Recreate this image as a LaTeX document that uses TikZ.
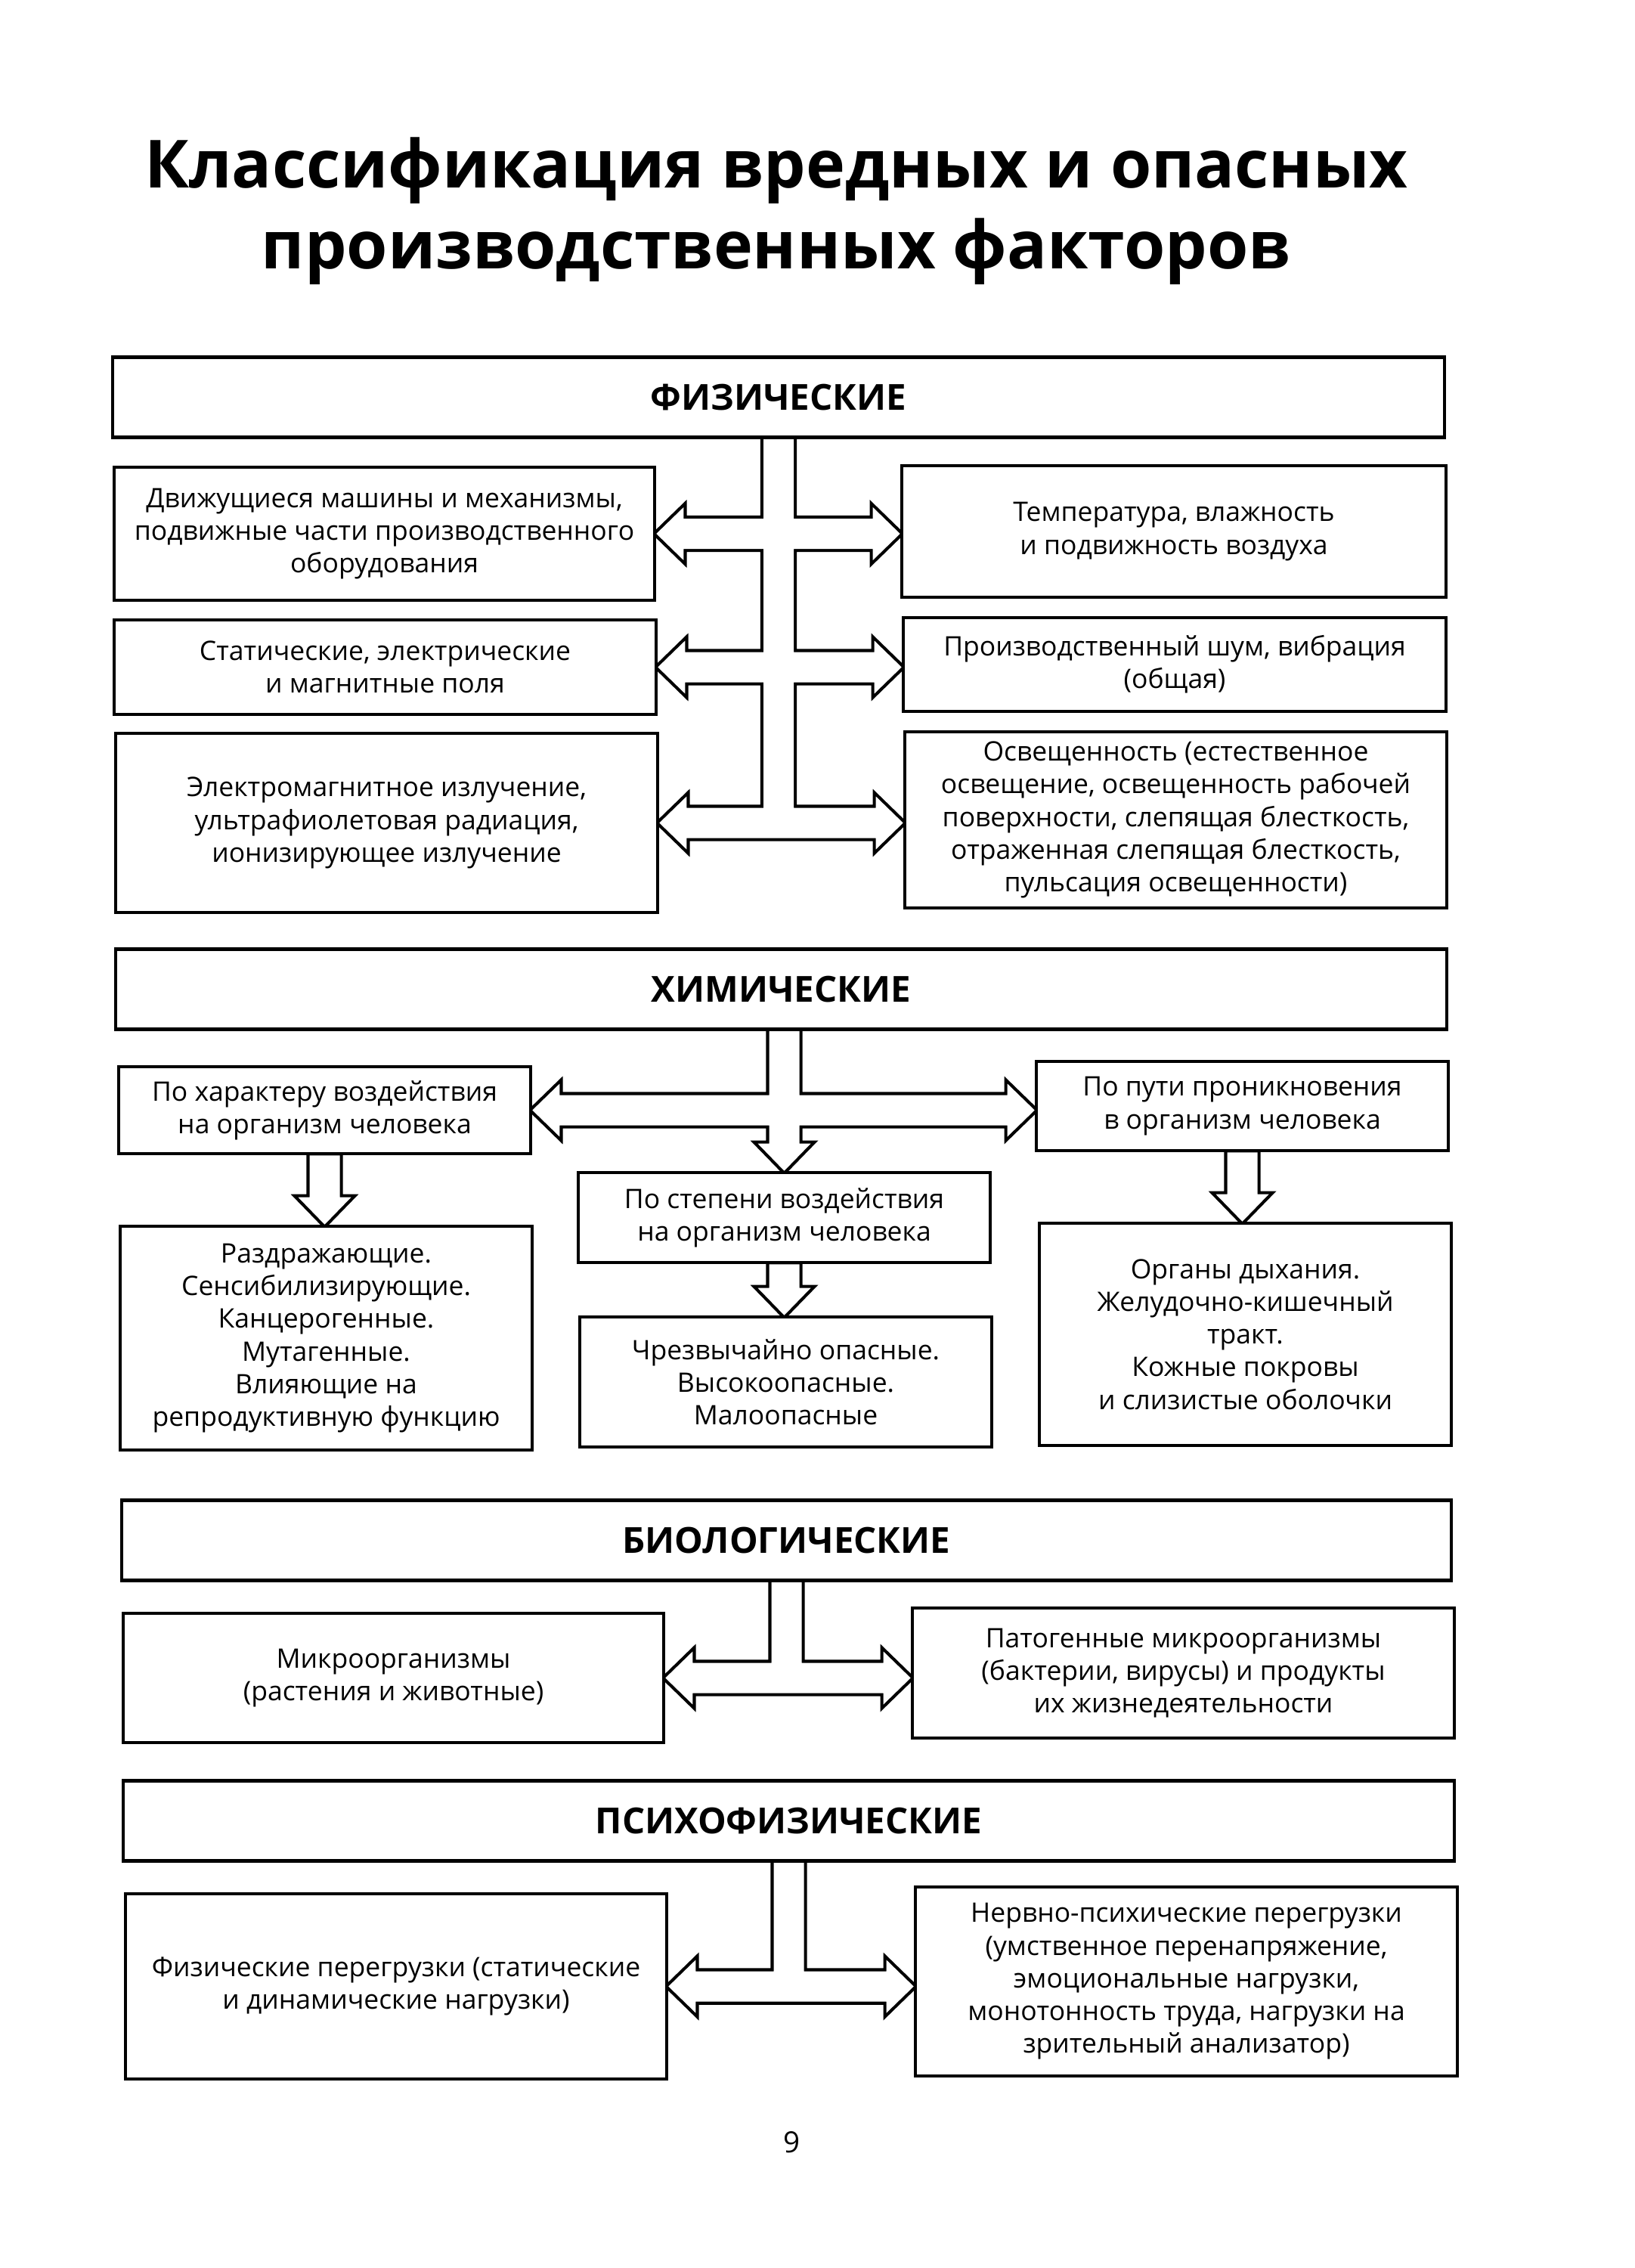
\documentclass[tikz,border=0pt]{standalone}
\usepackage{fontspec}
\setmainfont{Open Sans}
\usetikzlibrary{calc,backgrounds}

\begin{document}
\begin{tikzpicture}[
    box/.style={rectangle, draw=black, line width=1.3pt, fill=white, align=center, inner sep=2pt, font=\fontsize{10.1}{12.3}\selectfont},
    hdrbox/.style={box, minimum height=1.06cm, font=\fontsize{13.5}{15}\selectfont\bfseries},
    blk/.style={draw=black, line width=2.4pt, postaction={fill=white}},
    trunk/.style={to path={-- ($(\tikztostart)+(-0.2,0)$) -- ($(\tikztotarget)+(-0.2,0)$)
        -- ($(\tikztotarget)+(0.2,0)$) -- ($(\tikztostart)+(0.2,0)$) -- cycle}},
    downway/.style={to path={-- ($(\tikztostart)+(-0.2,0)$) -- ($(\tikztotarget)+(-0.2,0.36)$)
        -- ($(\tikztotarget)+(-0.35,0.36)$) -- (\tikztotarget) -- ($(\tikztotarget)+(0.35,0.36)$)
        -- ($(\tikztotarget)+(0.2,0.36)$) -- ($(\tikztostart)+(0.2,0)$) -- cycle}},
    twoway/.style={to path={-- ($(\tikztostart)+(0.36,-0.35)$) -- ($(\tikztostart)+(0.36,-0.2)$)
        -- ($(\tikztotarget)+(-0.36,-0.2)$) -- ($(\tikztotarget)+(-0.36,-0.35)$) -- (\tikztotarget)
        -- ($(\tikztotarget)+(-0.36,0.35)$) -- ($(\tikztotarget)+(-0.36,0.2)$)
        -- ($(\tikztostart)+(0.36,0.2)$) -- ($(\tikztostart)+(0.36,0.35)$) -- cycle}}]

    \useasboundingbox (0,0) rectangle (21.63,-30);

    % Title
    \node[font=\fontsize{25}{30}\selectfont\bfseries] (title1) at (10.27,-2.26) {Классификация вредных и опасных};
    \node[font=\fontsize{25}{30}\selectfont\bfseries] (title2) at (10.27,-3.33) {производственных факторов};

    % Physical factors
    \node[hdrbox, minimum width=17.62cm] (fhdr) at (10.30,-5.255) {ФИЗИЧЕСКИЕ};
    \node[box, minimum width=7.15cm, minimum height=1.76cm] (fl1) at (5.085,-7.06) {Движущиеся машины и механизмы,\\подвижные части производственного\\оборудования};
    \node[box, minimum width=7.20cm, minimum height=1.74cm] (fr1) at (15.53,-7.03) {Температура, влажность\\и подвижность воздуха};
    \node[box, minimum width=7.17cm, minimum height=1.25cm] (fl2) at (5.095,-8.825) {Статические, электрические\\и магнитные поля};
    \node[box, minimum width=7.18cm, minimum height=1.24cm] (fr2) at (15.54,-8.79) {Производственный шум, вибрация\\(общая)};
    \node[box, minimum width=7.17cm, minimum height=2.37cm] (fl3) at (5.115,-10.885) {Электромагнитное излучение,\\ультрафиолетовая радиация,\\ионизирующее излучение};
    \node[box, minimum width=7.17cm, minimum height=2.33cm] (fr3) at (15.555,-10.845) {Освещенность (естественное\\освещение, освещенность рабочей\\поверхности, слепящая блесткость,\\отраженная слепящая блесткость,\\пульсация освещенности)};

    % Chemical factors
    \node[hdrbox, minimum width=17.61cm] (chdr) at (10.335,-13.085) {ХИМИЧЕСКИЕ};
    \node[box, minimum width=5.45cm, minimum height=1.15cm] (ca) at (4.295,-14.685) {По характеру воздействия\\на организм человека};
    \node[box, minimum width=5.45cm, minimum height=1.18cm] (cc) at (16.435,-14.63) {По пути проникновения\\в организм человека};
    \node[box, minimum width=5.45cm, minimum height=1.19cm] (cb) at (10.375,-16.105) {По степени воздействия\\на организм человека};
    \node[box, minimum width=5.45cm, minimum height=2.96cm] (ca2) at (4.315,-17.70) {Раздражающие.\\Сенсибилизирующие.\\Канцерогенные.\\Мутагенные.\\Влияющие на\\репродуктивную функцию};
    \node[box, minimum width=5.45cm, minimum height=1.72cm] (cb2) at (10.395,-18.28) {Чрезвычайно опасные.\\Высокоопасные.\\Малоопасные};
    \node[box, minimum width=5.45cm, minimum height=2.94cm] (cc2) at (16.475,-17.65) {Органы дыхания.\\Желудочно-кишечный\\тракт.\\Кожные покровы\\и слизистые оболочки};

    % Biological factors
    \node[hdrbox, minimum width=17.59cm] (bhdr) at (10.405,-20.375) {БИОЛОГИЧЕСКИЕ};
    \node[box, minimum width=7.15cm, minimum height=1.71cm] (bl) at (5.205,-22.195) {Микроорганизмы\\(растения и животные)};
    \node[box, minimum width=7.17cm, minimum height=1.72cm] (br) at (15.655,-22.13) {Патогенные микроорганизмы\\(бактерии, вирусы) и продукты\\их жизнедеятельности};

    % Psychophysical factors
    \node[hdrbox, minimum width=17.61cm] (phdr) at (10.435,-24.085) {ПСИХОФИЗИЧЕСКИЕ};
    \node[box, minimum width=7.16cm, minimum height=2.45cm] (pl) at (5.24,-26.275) {Физические перегрузки (статические\\и динамические нагрузки)};
    \node[box, minimum width=7.17cm, minimum height=2.50cm] (pr) at (15.695,-26.21) {Нервно-психические перегрузки\\(умственное перенапряжение,\\эмоциональные нагрузки,\\монотонность труда, нагрузки на\\зрительный анализатор)};

    % Page number
    \node[font=\fontsize{11}{13}\selectfont] (pgno) at (10.48,-28.34) {9};

    % Free ends of the block arrows
    \coordinate (fbot) at (fhdr.south |- fl3.east);
    \coordinate (ft1) at (fl1.east -| fr1.west);
    \coordinate (ft2) at (fl2.east -| fr2.west);
    \coordinate (ft3) at (fl3.east -| fr3.west);
    \coordinate (ctop) at (cb.north |- chdr.south);
    \coordinate (ct) at (ca.east -| cc.west);
    \coordinate (bbot) at (bhdr.south |- bl.east);
    \coordinate (bt) at (bl.east -| br.west);
    \coordinate (pbot) at (phdr.south |- pl.east);
    \coordinate (pt) at (pl.east -| pr.west);

    % Block arrows, behind the boxes
    \begin{scope}[on background layer]
        \path[blk] (fhdr.south) to[trunk] (fbot)
            (fl1.east) to[twoway] (ft1)
            (fl2.east) to[twoway] (ft2)
            (fl3.east) to[twoway] (ft3);
        \path[blk] (ctop) to[downway] (cb.north)
            (ca.east) to[twoway] (ct);
        \path[blk] (ca.south) to[downway] (ca.south |- ca2.north);
        \path[blk] (cb.south) to[downway] (cb.south |- cb2.north);
        \path[blk] (cc.south) to[downway] (cc.south |- cc2.north);
        \path[blk] (bhdr.south) to[trunk] (bbot)
            (bl.east) to[twoway] (bt);
        \path[blk] (phdr.south) to[trunk] (pbot)
            (pl.east) to[twoway] (pt);
    \end{scope}

\end{tikzpicture}
\end{document}
